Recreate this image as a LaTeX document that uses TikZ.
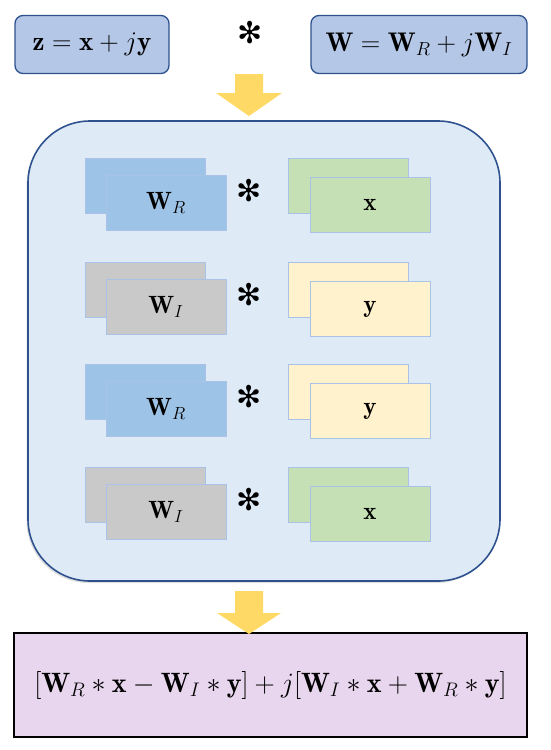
\RequirePackage{fix-cm}
\documentclass[tikz,border=0pt]{standalone}
\usepackage{amsmath}
\usepackage{fontspec}
\newfontfamily\symfont{DejaVu Sans}
\usetikzlibrary{shadows}
\definecolor{topfill}{HTML}{B4C7E7}
\definecolor{darkblue}{HTML}{2F528F}
\definecolor{mainfill}{HTML}{DEEBF7}
\definecolor{wblue}{HTML}{9DC3E6}
\definecolor{wgray}{HTML}{C9C9C9}
\definecolor{xgreen}{HTML}{C5E0B4}
\definecolor{yyellow}{HTML}{FFF2CC}
\definecolor{rectedge}{HTML}{A9C2E6}
\definecolor{arrowc}{HTML}{FFD966}
\definecolor{resfill}{HTML}{E8D6EE}
\tikzset{
  topbox/.style={draw=darkblue, line width=1.3pt, fill=topfill, rounded corners=8pt,
    minimum height=58pt, inner sep=0pt, font=\fontsize{27}{31}\selectfont},
  mainbox/.style={draw=darkblue, line width=1.6pt, fill=mainfill, rounded corners=62pt,
    minimum width=472pt, minimum height=460pt, inner sep=0pt,
    drop shadow={shadow xshift=-1.5pt, shadow yshift=-2pt, opacity=0.25}},
  cbox/.style={draw=rectedge, line width=1pt, minimum width=120pt, minimum height=55pt,
    inner sep=0pt, font=\fontsize{25}{29}\selectfont},
  starsym/.style={inner sep=0pt, font=\symfont\fontsize{30}{30}\selectfont},
  resbox/.style={draw=black, line width=2pt, fill=resfill, minimum width=513pt,
    minimum height=104pt, inner sep=0pt, font=\fontsize{28}{32}\selectfont},
  blockarrow/.style={fill=arrowc}
}
\begin{document}
\begin{tikzpicture}[x=1pt,y=-1pt]
\useasboundingbox (0,0) rectangle (550,750);
% top row
\node[topbox, minimum width=154pt] (z) at (92,44.5) {$\mathbf{z}=\mathbf{x}+j\mathbf{y}$};
\node[starsym] (s0) at (250,33) {✻};
\node[topbox, minimum width=216pt] (w) at (419,44.5) {$\mathbf{W}=\mathbf{W}_R+j\mathbf{W}_I$};
% main box
\node[mainbox] (main) at (264,351) {};
% arrow 1
\fill[blockarrow] (235,74) -- (263,74) -- (263,93) -- (282,93) -- (249,116) -- (216,93) -- (235,93) -- cycle;
% rows
\foreach \t/\lc/\ll/\rc/\rl [count=\i] in {
  158/wblue/{\mathbf{W}_R}/xgreen/{\mathbf{x}},
  262/wgray/{\mathbf{W}_I}/yyellow/{\mathbf{y}},
  364/wblue/{\mathbf{W}_R}/yyellow/{\mathbf{y}},
  467/wgray/{\mathbf{W}_I}/xgreen/{\mathbf{x}}}{
  \node[cbox, fill=\lc] (lb\i) at (145,{\t+27.5}) {};
  \node[cbox, fill=\lc] (lf\i) at (166,{\t+45}) {$\ll$};
  \node[starsym] (st\i) at (249,{\t+33}) {✻};
  \node[cbox, fill=\rc] (rb\i) at (348,{\t+27.5}) {};
  \node[cbox, fill=\rc] (rf\i) at (370,{\t+47}) {$\rl$};
}
% result box
\node[resbox] (res) at (270.5,685) {$[\mathbf{W}_R\ast\mathbf{x}-\mathbf{W}_I\ast\mathbf{y}]+j[\mathbf{W}_I\ast\mathbf{x}+\mathbf{W}_R\ast\mathbf{y}]$};
% arrow 2
\fill[blockarrow] (235,591) -- (263,591) -- (263,613) -- (281,613) -- (249,634) -- (217,613) -- (235,613) -- cycle;
\end{tikzpicture}
\end{document}
